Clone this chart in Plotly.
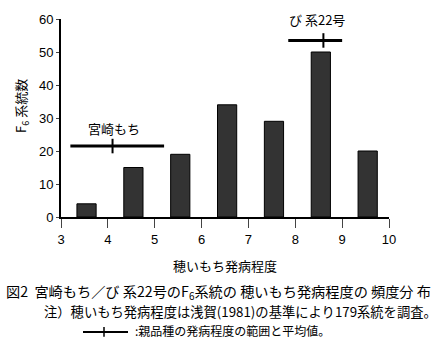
import plotly.graph_objects as go

# Frequency distribution of panicle blast severity in F6 lines
severity = [3.5, 4.5, 5.5, 6.5, 7.5, 8.5, 9.5]
line_counts = [4, 15, 19, 34, 29, 50, 20]

# Parental cultivars: severity range, mean, and marker height
parents = ["宮崎もち", "び 系22号"]
parent_min = [3.2, 7.85]
parent_max = [5.2, 9.0]
parent_mean = [4.1, 8.6]
parent_y = [21.5, 53.5]

x_ticks = [3, 4, 5, 6, 7, 8, 9, 10]
y_ticks = [0, 10, 20, 30, 40, 50, 60]

JP = "Noto Sans CJK JP, Arial, sans-serif"
NUM = "Liberation Sans, Arial, sans-serif"

fig = go.Figure()

fig.add_trace(go.Bar(
    x=severity, y=line_counts,
    width=0.41, offset=-0.16,
    marker=dict(color="#333333", line=dict(color="black", width=1)),
    hoverinfo="x+y",
))

shapes = []
annotations = []
label_shift = [(1, 18), (-6, 21)]  # pixel offsets of the cultivar names
for name, lo, hi, m, yv, (dx, dy) in zip(parents, parent_min, parent_max, parent_mean,
                                          parent_y, label_shift):
    shapes.append(dict(type="line", xref="x", yref="y", x0=lo, x1=hi, y0=yv, y1=yv,
                       line=dict(color="black", width=3)))
    shapes.append(dict(type="line", xref="x", yref="y", x0=m, x1=m, y0=yv - 2.2, y1=yv + 2.2,
                       line=dict(color="black", width=2)))
    annotations.append(dict(text=name, x=m, y=yv, xref="x", yref="y", xshift=dx, yshift=dy,
                            showarrow=False, font=dict(family=JP, size=13, color="black")))

# y-axis title
annotations.append(dict(text="F<sub>6</sub> 系統数", x=22, y=102, xref="paper", yref="paper",
                        showarrow=False, textangle=-90,
                        font=dict(family=JP, size=13, color="black")))

# Caption lines below the chart
captions = [
    dict(text="穂いもち発病程度", x=225, y=267, size=13),
    dict(text="図2  宮崎もち／び 系22号のF<sub>6</sub>系統の 穂いもち発病程度の 頻度分 布", x=4, y=295, size=14.2,
         xanchor="left"),
    dict(text="注）穂いもち発病程度は浅賀(1981)の基準により179系統を調査。", x=42, y=315, size=13.3,
         xanchor="left"),
    dict(text=":親品種の発病程度の範囲と平均値。", x=133, y=335, size=12, xanchor="left"),
]
for c in captions:
    size = c.pop("size")
    c.update(xref="paper", yref="paper", showarrow=False,
             font=dict(family=JP, size=size, color="black"))
annotations += captions

# Convert pixel positions to paper coordinates
L, R, T, B = 61, 50, 12, 125
W, H = 439, 342
pw, ph = W - L - R, H - T - B
for a in annotations:
    if a.get("xref") == "paper":
        a["x"] = (a["x"] - L) / pw
        a["y"] = (H - B - a["y"]) / ph
        a.setdefault("xanchor", "center")
        a["yanchor"] = "middle"

# Legend glyph for the parent range markers
def px(x, y):
    return (x - L) / pw, (H - B - y) / ph

x0, y0 = px(83, 336)
x1, _ = px(128, 336)
xm, ya = px(104, 331)
_, yb = px(104, 341)
shapes.append(dict(type="line", xref="paper", yref="paper", x0=x0, x1=x1, y0=y0, y1=y0,
                   line=dict(color="black", width=2)))
shapes.append(dict(type="line", xref="paper", yref="paper", x0=xm, x1=xm, y0=ya, y1=yb,
                   line=dict(color="black", width=1.5)))

fig.update_layout(
    width=W, height=H,
    margin=dict(l=L, r=R, t=T, b=B),
    paper_bgcolor="white", plot_bgcolor="white",
    showlegend=False,
    shapes=shapes, annotations=annotations,
    xaxis=dict(range=[3, 10], tickvals=x_ticks, ticks="outside", ticklen=9, tickwidth=1,
               showline=True, linewidth=2, linecolor="black", showgrid=False, zeroline=False,
               tickfont=dict(family=NUM, size=13, color="black"), fixedrange=True),
    yaxis=dict(range=[0, 60], tickvals=y_ticks, ticks="outside", ticklen=3, tickwidth=1,
               showline=True, linewidth=2, linecolor="black", showgrid=False, zeroline=False,
               tickfont=dict(family=NUM, size=13, color="black"), fixedrange=True),
)

fig.write_html("out.html")
